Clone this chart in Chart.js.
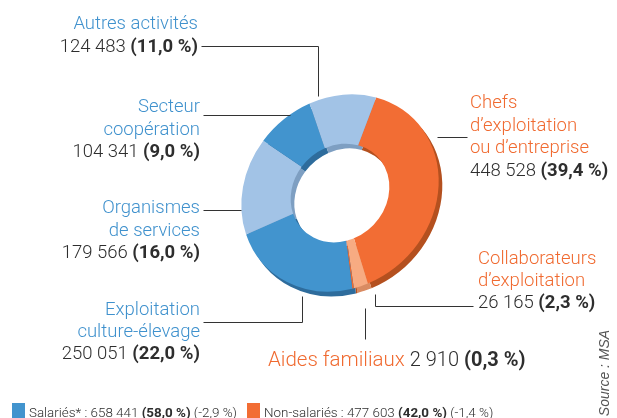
<!DOCTYPE html>
<html><head><meta charset="utf-8">
<script src="https://cdn.jsdelivr.net/npm/chart.js@4/dist/chart.umd.min.js"></script>
<style>html,body{margin:0;padding:0;background:#fff;}#wrap{width:617px;height:418px;position:relative;}</style>
</head><body><div id="wrap"><canvas id="c" width="617" height="418"></canvas></div>
<script>
const categories = ["Chefs\nd’exploitation\nou d’entreprise", "Collaborateurs\nd’exploitation", "Aides familiaux", "Exploitation\nculture-élevage", "Organismes\nde services", "Secteur\ncoopération", "Autres activités"];
const values = [448528, 26165, 2910, 250051, 179566, 104341, 124483];
const percents = ["39,4", "2,3", "0,3", "22,0", "16,0", "9,0", "11,0"];
const sliceColors = ["#F26D34", "#F7AB82", "#EE6A30", "#4294CE", "#A2C3E6", "#4294CE", "#A2C3E6"];
const rimColors = ["#B4501F", "#D98B62", "#B4501F", "#2E6C9C", "#7E9FC2", "#2E6C9C", "#7E9FC2"];
const legendLabels = ["Salariés*", "Non-salariés"];
const legendValues = [658441, 477603];
const legendPercents = ["58,0", "42,0"];
const legendChanges = ["-2,9", "-1,4"];
const legendColors = ["#4294CE", "#F26D34"];
const sourceText = "Source : MSA";

const BLUE_TXT = "#3F91CD", ORANGE_TXT = "#F06A30", DARK = "#2E2E2E";
const FONT = "Roboto, 'Liberation Sans', sans-serif";
function fmt(n){ return String(n).replace(/\B(?=(\d{3})+(?!\d))/g, " "); }

// layout of annotations (text baselines & leader lines)
const labelLayout = [
  {x:470, y:108, align:"left", color:ORANGE_TXT, dy:22.6, line:[[437,137],[467,137]]},
  {x:478, y:264, align:"left", color:ORANGE_TXT, dy:22, line:[[375,294],[375,306],[473,306]]},
  {x:268, y:366, align:"inline", color:ORANGE_TXT, line:[[365,308],[365,339]]},
  {x:200, y:315, align:"right", color:BLUE_TXT, dy:22, line:[[203,322],[302,322],[302,296]]},
  {x:200, y:213, align:"right", color:BLUE_TXT, dy:22.5, line:[[203,210],[241,210]]},
  {x:200, y:112, align:"right", color:BLUE_TXT, dy:22.5, line:[[203,115],[290,115]]},
  {x:198, y:29, align:"right", color:BLUE_TXT, dy:23, line:[[201,46],[318,46],[318,96]]}
];

function drawRich(ctx, parts, x, y, align){
  let w = 0;
  parts.forEach(p => { ctx.font = p.font; p.w = ctx.measureText(p.t).width; w += p.w; });
  let sx = align === "right" ? x - w : x;
  ctx.textAlign = "left"; ctx.textBaseline = "alphabetic";
  parts.forEach(p => { ctx.font = p.font; ctx.fillStyle = p.color; ctx.fillText(p.t, sx, y); sx += p.w; });
  return sx;
}

const M = {a:0.985, b:-0.06};
const shapePlugin = {
  id: "shape",
  beforeDatasetsDraw(chart){
    const ctx = chart.ctx, meta = chart.getDatasetMeta(0);
    const cx = meta.data[0].x, cy = meta.data[0].y;
    ctx.save();
    ctx.translate(cx, cy); ctx.transform(M.a, M.b, M.b, M.a, 0, 0); ctx.translate(-cx, -cy);
    ctx.save(); ctx.translate(4, 5);
    meta.data.forEach((arc, i) => {
      const o = arc.options; const bg = o.backgroundColor;
      o.backgroundColor = rimColors[i]; arc.draw(ctx); o.backgroundColor = bg;
    });
    ctx.restore();
  },
  afterDatasetsDraw(chart){ chart.ctx.restore(); }
};

const textPlugin = {
  id: "texts",
  afterDraw(chart){
    const ctx = chart.ctx;
    const reg = "300 18.5px " + FONT, bold = "700 18.5px " + FONT;
    labelLayout.forEach((L, i) => {
      ctx.save();
      ctx.strokeStyle = "#333"; ctx.lineWidth = 1; ctx.beginPath();
      L.line.forEach((p, k) => k ? ctx.lineTo(p[0]+0.5, p[1]+0.5) : ctx.moveTo(p[0]+0.5, p[1]+0.5));
      ctx.stroke();
      const valParts = [{t: fmt(values[i]) + " ", font: reg, color: DARK}, {t: "(" + percents[i] + " %)", font: bold, color: DARK}];
      if (L.align === "inline") {
        drawRich(ctx, [{t: categories[i] + " ", font: "300 20.5px " + FONT, color: L.color},
          {t: fmt(values[i]) + " ", font: "300 20px " + FONT, color: DARK},
          {t: "(" + percents[i] + " %)", font: "700 20px " + FONT, color: DARK}], L.x, L.y, "left");
      } else {
        const lines = categories[i].split("\n");
        lines.forEach((ln, k) => drawRich(ctx, [{t: ln, font: reg, color: L.color}], L.x, L.y + k*L.dy, L.align));
        drawRich(ctx, valParts, L.x, L.y + lines.length*L.dy, L.align);
      }
      ctx.restore();
    });
    // legend
    const lf = "300 13.4px " + FONT, lb = "700 13.4px " + FONT;
    const lx = [12, 247];
    legendLabels.forEach((lab, i) => {
      ctx.fillStyle = legendColors[i]; ctx.fillRect(lx[i], 403, 13, 16);
      drawRich(ctx, [{t: lab + " : " + fmt(legendValues[i]) + " ", font: lf, color: DARK},
        {t: "(" + legendPercents[i] + " %)", font: lb, color: DARK},
        {t: " (" + legendChanges[i] + " %)", font: lf, color: DARK}], lx[i] + 17, 417, "left");
    });
    // source
    ctx.save(); ctx.translate(609, 373); ctx.rotate(-Math.PI/2);
    ctx.font = "italic 14px 'Liberation Sans', sans-serif"; ctx.fillStyle = "#555"; ctx.textAlign = "center"; ctx.textBaseline = "alphabetic";
    ctx.fillText(sourceText, 0, 0); ctx.restore();
  }
};

new Chart(document.getElementById("c"), {
  type: "doughnut",
  data: { labels: categories, datasets: [{ data: values, backgroundColor: sliceColors, borderWidth: 0, clip: false }] },
  options: {
    responsive: false, animation: false, events: [],
    rotation: 18, cutout: "50%",
    layout: { padding: { left: 240, top: 93, right: 177, bottom: 125 } },
    plugins: { legend: { display: false }, tooltip: { enabled: false } }
  },
  plugins: [shapePlugin, textPlugin]
});
</script></body></html>
